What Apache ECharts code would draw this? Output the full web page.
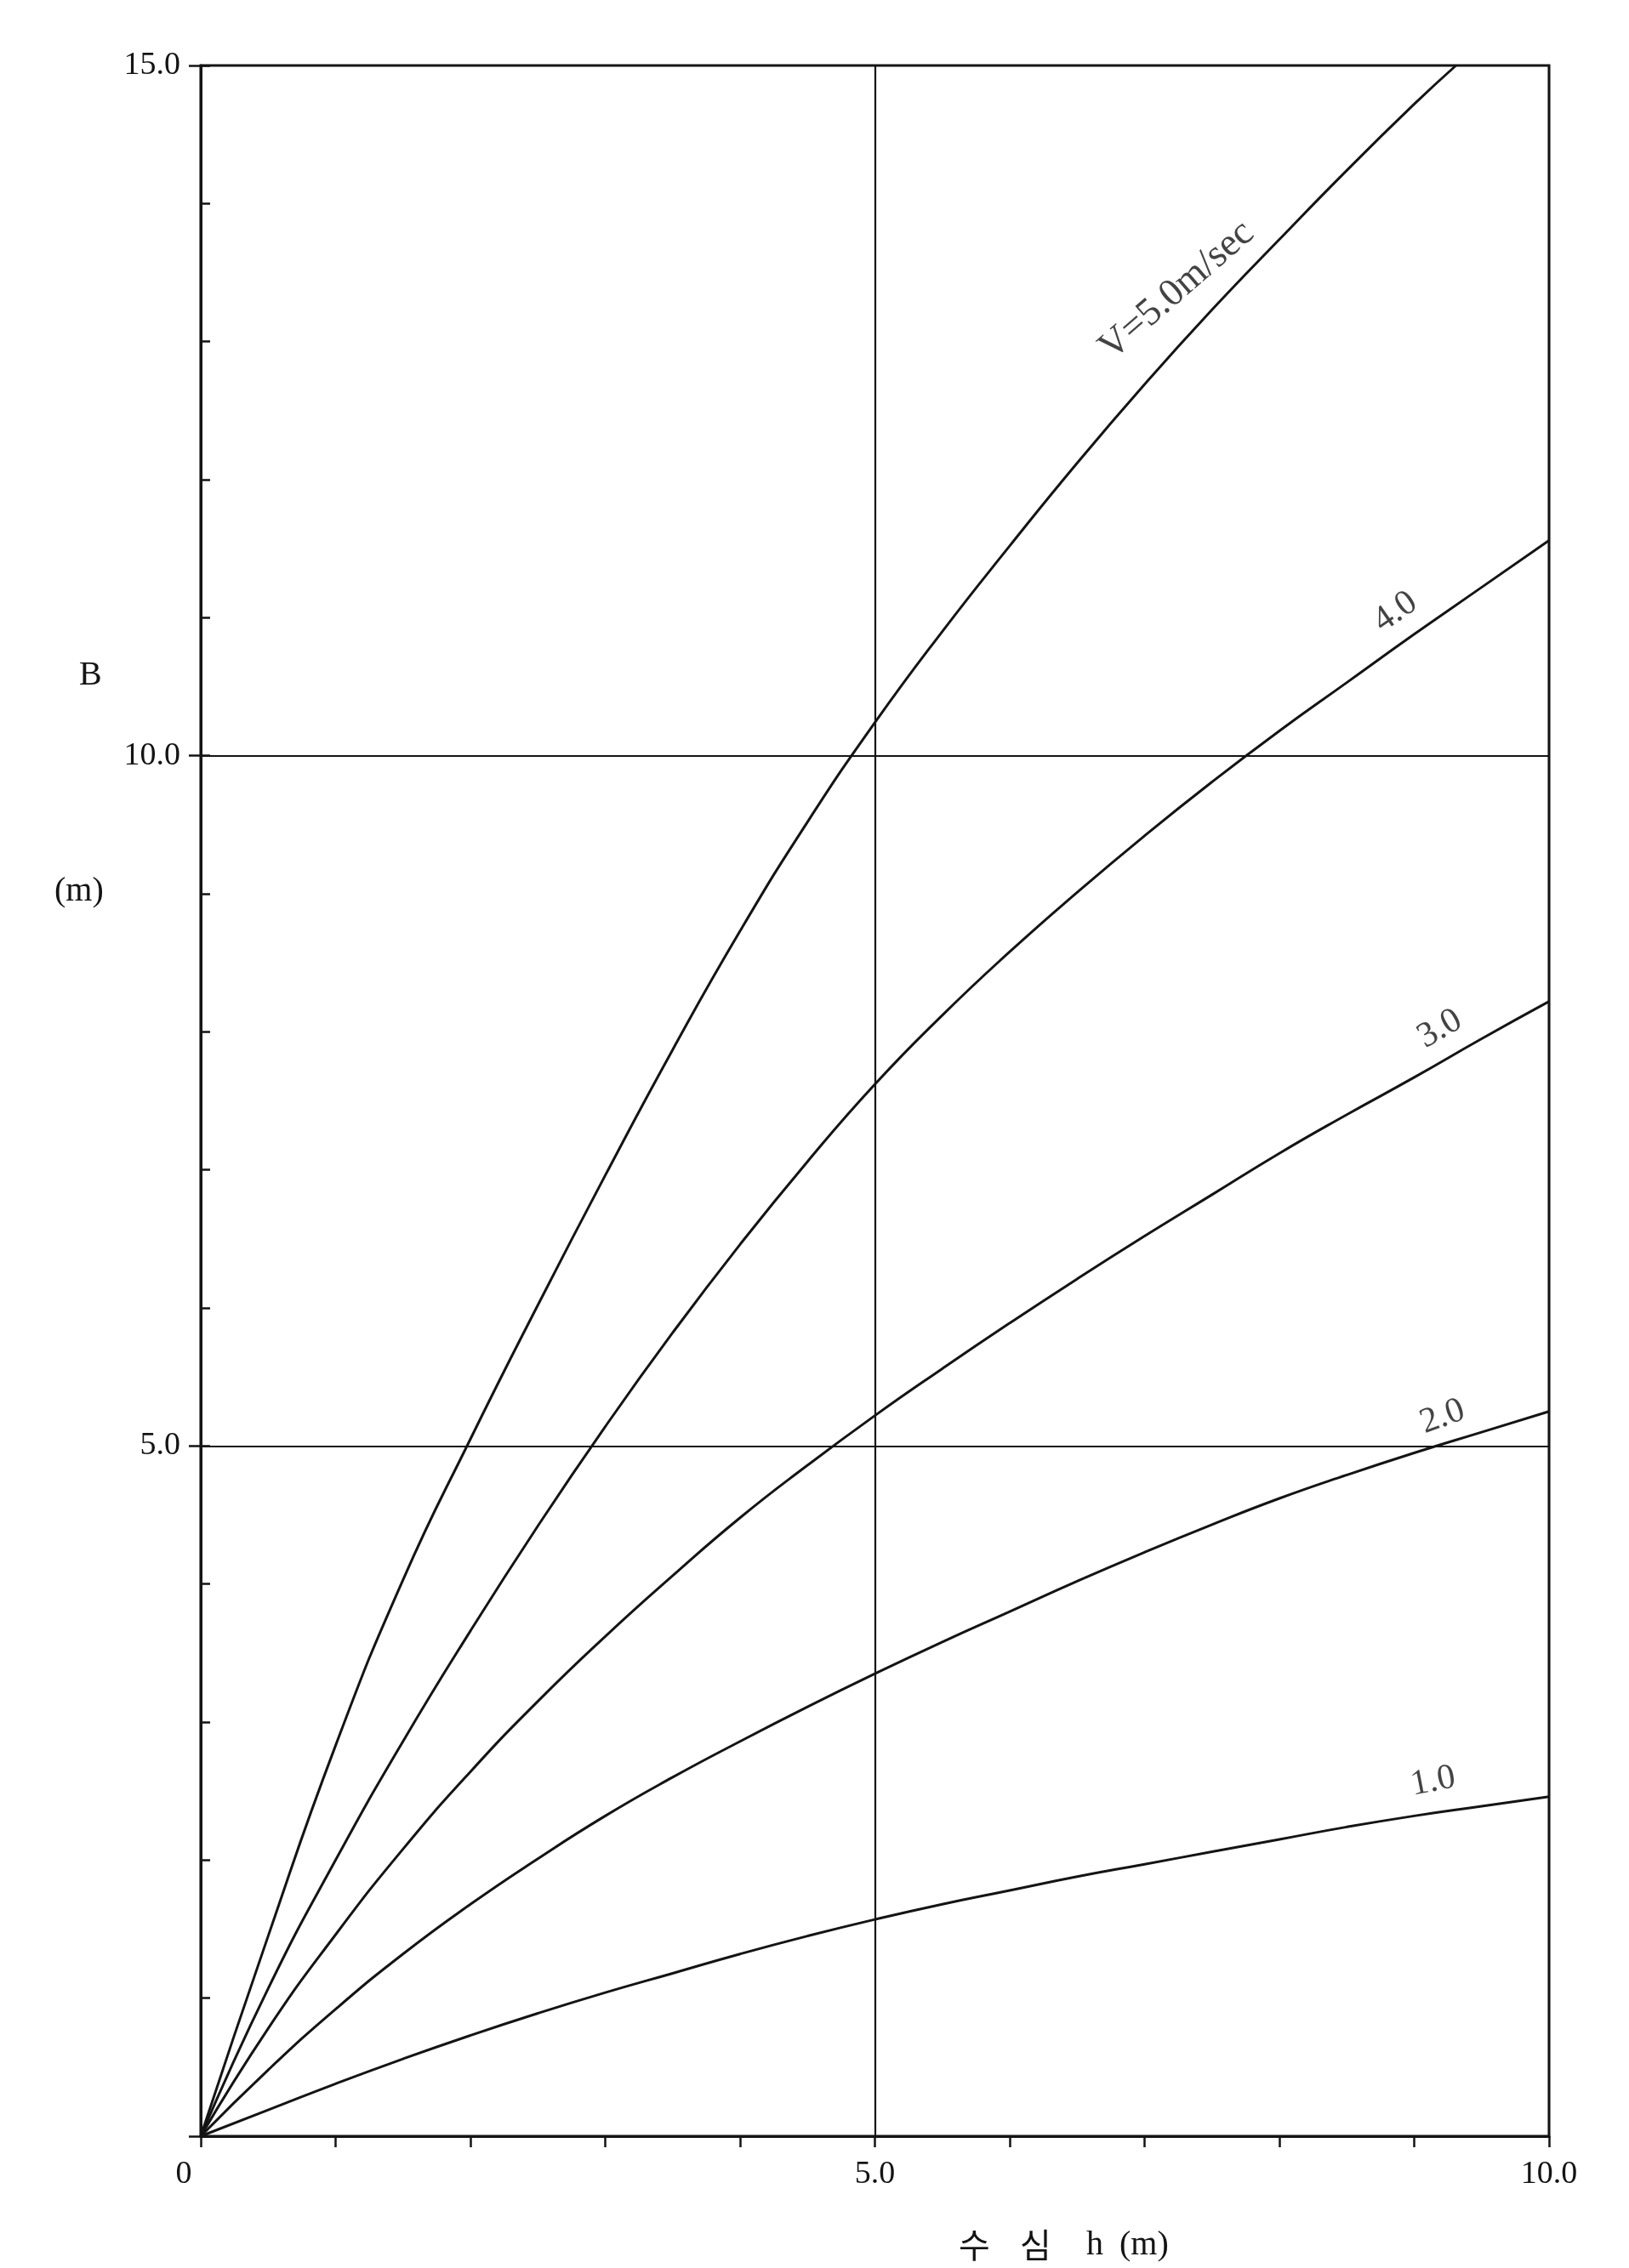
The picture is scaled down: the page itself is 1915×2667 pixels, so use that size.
<!DOCTYPE html>
<html>
<head>
<meta charset="utf-8">
<script src="https://cdn.jsdelivr.net/npm/echarts@6/dist/echarts.min.js"></script>
<style>
  html, body { margin: 0; padding: 0; background: #fff; }
  #chart { width: 1915px; height: 2667px; }
</style>
</head>
<body>
<div id="chart"></div>
<script>
// Water depth h (m) at which each curve is sampled
const depthH = [0, 0.5, 1, 1.5, 2, 2.5, 3, 3.5, 4, 4.5, 5, 5.5, 6, 6.5, 7, 7.5, 8, 8.5, 9, 9.5, 10];
// V = 5.0 m/sec leaves the top of the frame before h = 10
const depthH_V5 = [0, 0.5, 1, 1.5, 2, 2.5, 3, 3.5, 4, 4.5, 5, 5.5, 6, 6.5, 7, 7.5, 8, 8.5, 9, 9.31];

// Width B (m) for each velocity
const widthV5 = [0, 1.45, 2.83, 4.03, 5.05, 6.02, 6.96, 7.87, 8.73, 9.52, 10.24, 10.90, 11.52, 12.12, 12.69, 13.23, 13.74, 14.24, 14.72, 15.0];
const widthV4 = [0, 1.07, 2.00, 2.86, 3.66, 4.42, 5.14, 5.82, 6.46, 7.06, 7.62, 8.12, 8.58, 9.01, 9.42, 9.81, 10.18, 10.53, 10.88, 11.22, 11.56];
const widthV3 = [0, 0.78, 1.46, 2.08, 2.64, 3.15, 3.62, 4.06, 4.48, 4.86, 5.22, 5.56, 5.89, 6.21, 6.52, 6.82, 7.12, 7.40, 7.67, 7.95, 8.22];
const widthV2 = [0, 0.48, 0.92, 1.32, 1.68, 2.01, 2.32, 2.60, 2.86, 3.11, 3.35, 3.58, 3.80, 4.02, 4.23, 4.43, 4.62, 4.79, 4.95, 5.10, 5.25];
const widthV1 = [0, 0.19, 0.38, 0.56, 0.73, 0.89, 1.04, 1.18, 1.32, 1.45, 1.57, 1.68, 1.78, 1.88, 1.97, 2.06, 2.15, 2.24, 2.32, 2.39, 2.46];

// Curve captions: [h, B, text, rotation in degrees]
const curveCaptions = [
  [7.24, 13.37, 'V=5.0m/sec', 41],
  [8.86, 11.04, '4.0', 35],
  [9.19, 8.02, '3.0', 30],
  [9.21, 5.21, '2.0', 20],
  [9.14, 2.57, '1.0', 11]
];

// Axis tick labels
const xTickLabels = { 0: '0', 5: '5.0', 10: '10.0' };
const yTickLabels = { 5: '5.0', 10: '10.0', 15: '15.0' };

const INK = '#141414';
const SERIF = '"Liberation Serif", "DejaVu Serif", serif';

function pairs(xs, ys) { return xs.map((x, i) => [x, ys[i]]); }

function curve(xs, ys) {
  return {
    type: 'line',
    data: pairs(xs, ys),
    xAxisIndex: 0, yAxisIndex: 0,
    smooth: 0.5,
    showSymbol: false,
    lineStyle: { color: INK, width: 3 },
    silent: true,
    z: 5
  };
}

const chart = echarts.init(document.getElementById('chart'), null, { renderer: 'canvas' });

chart.setOption({
  backgroundColor: '#ffffff',
  animation: false,
  grid: {
    left: 236, top: 77, width: 1585, height: 2435,
    show: true, borderColor: INK, borderWidth: 3, backgroundColor: 'transparent'
  },
  xAxis: [
    {
      type: 'value', min: 0, max: 10, interval: 1,
      axisLine: { show: true, onZero: false, lineStyle: { color: INK, width: 3 } },
      axisTick: { show: true, inside: false, length: 13, lineStyle: { color: INK, width: 2.5 } },
      axisLabel: {
        show: true, margin: 26, color: INK, fontFamily: SERIF, fontSize: 38,
        formatter: v => {
          if (v === 0) return '{zero|0}';
          return xTickLabels[v] || '';
        },
        rich: { zero: { fontFamily: SERIF, fontSize: 38, color: INK, padding: [0, 40, 0, 0] } }
      },
      splitLine: { show: false }
    },
    {
      type: 'value', min: 0, max: 10, interval: 5, position: 'bottom',
      axisLine: { show: false }, axisTick: { show: false }, axisLabel: { show: false },
      splitLine: { show: true, lineStyle: { color: INK, width: 2.2 } }
    }
  ],
  yAxis: [
    {
      type: 'value', min: 0, max: 15, interval: 1,
      axisLine: { show: true, onZero: false, lineStyle: { color: INK, width: 3 } },
      axisTick: { show: true, inside: true, length: 11, lineStyle: { color: INK, width: 2.5 } },
      axisLabel: { show: false },
      splitLine: { show: false }
    },
    {
      type: 'value', min: 0, max: 15, interval: 5, position: 'left',
      axisLine: { show: false },
      axisTick: { show: true, inside: false, length: 14, lineStyle: { color: INK, width: 2.5 } },
      axisLabel: {
        show: true, margin: 24, color: INK, fontFamily: SERIF, fontSize: 38,
        padding: [16, 0, 0, 0],
        formatter: v => yTickLabels[v] || ''
      },
      splitLine: { show: true, lineStyle: { color: INK, width: 2.2 } }
    }
  ],
  series: [
    curve(depthH_V5, widthV5),
    curve(depthH, widthV4),
    curve(depthH, widthV3),
    curve(depthH, widthV2),
    curve(depthH, widthV1),
    {
      type: 'scatter',
      xAxisIndex: 0, yAxisIndex: 0,
      symbolSize: 0,
      silent: true,
      z: 6,
      data: curveCaptions.map(c => ({
        value: [c[0], c[1]],
        label: {
          show: true, position: 'inside', formatter: c[2], rotate: c[3],
          color: INK, fontFamily: SERIF, fontSize: c[2].length > 4 ? 46 : 42
        }
      }))
    }
  ],
  graphic: [
    { type: 'text', left: 93, top: 774, style: { text: 'B', font: '40px ' + SERIF, fill: INK } },
    { type: 'text', left: 64, top: 1028, style: { text: '(m)', font: '40px ' + SERIF, fill: INK } },
    { type: 'text', left: 1127, top: 2620, style: { text: '수', font: '40px "Noto Sans CJK KR", sans-serif', fill: INK } },
    { type: 'text', left: 1199, top: 2620, style: { text: '심', font: '40px "Noto Sans CJK KR", sans-serif', fill: INK } },
    { type: 'text', left: 1277, top: 2620, style: { text: 'h', font: '40px ' + SERIF, fill: INK } },
    { type: 'text', left: 1316, top: 2620, style: { text: '(m)', font: '40px ' + SERIF, fill: INK } }
  ]
});
</script>
</body>
</html>
